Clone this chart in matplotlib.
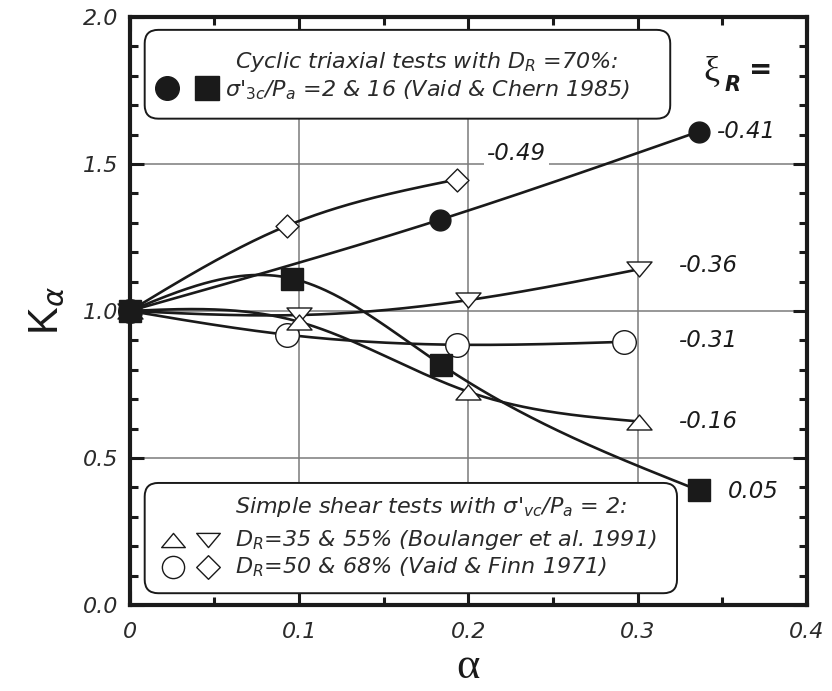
import numpy as np
import matplotlib
matplotlib.use('Agg')
import matplotlib.pyplot as plt
from matplotlib.patches import FancyBboxPatch
from matplotlib.path import Path

plt.rcParams['font.family'] = ['DejaVu Sans']
plt.rcParams['mathtext.fontset'] = 'dejavusans'

# ---------------- data ----------------
alpha_diamond = [0.0, 0.093, 0.193]
k_diamond = [1.0, 1.29, 1.447]
alpha_fcircle = [0.0, 0.183, 0.336]
k_fcircle = [1.0, 1.31, 1.61]
alpha_fsquare = [0.0, 0.096, 0.184, 0.336]
k_fsquare = [1.0, 1.11, 0.817, 0.39]
alpha_dtri = [0.0, 0.1, 0.2, 0.301]
k_dtri = [1.0, 0.986, 1.037, 1.142]
alpha_ocircle = [0.0, 0.093, 0.193, 0.292]
k_ocircle = [1.0, 0.919, 0.885, 0.895]
alpha_utri = [0.0, 0.1, 0.2, 0.301]
k_utri = [1.0, 0.963, 0.725, 0.624]

xi_labels = ['-0.49', '-0.41', '-0.36', '-0.31', '-0.16', '0.05']
xi_label_x = [0.211, 0.347, 0.3245, 0.3245, 0.3245, 0.353]
xi_label_y = [1.535, 1.61, 1.156, 0.898, 0.624, 0.386]

xticks = [0, 0.1, 0.2, 0.3, 0.4]
xtick_labels = ['0', '0.1', '0.2', '0.3', '0.4']
yticks = [0.0, 0.5, 1.0, 1.5, 2.0]
ytick_labels = ['0.0', '0.5', '1.0', '1.5', '2.0']


def natural_spline(x, y, n=300):
    x = np.asarray(x, float)
    y = np.asarray(y, float)
    m = len(x)
    h = np.diff(x)
    A = np.zeros((m, m))
    b = np.zeros(m)
    A[0, 0] = 1
    A[-1, -1] = 1
    for i in range(1, m - 1):
        A[i, i - 1] = h[i - 1]
        A[i, i] = 2 * (h[i - 1] + h[i])
        A[i, i + 1] = h[i]
        b[i] = 3 * ((y[i + 1] - y[i]) / h[i] - (y[i] - y[i - 1]) / h[i - 1])
    c = np.linalg.solve(A, b)
    xs = np.linspace(x[0], x[-1], n)
    idx = np.clip(np.searchsorted(x, xs) - 1, 0, m - 2)
    dx = xs - x[idx]
    bc = (y[1:] - y[:-1]) / h - h * (2 * c[:-1] + c[1:]) / 3
    d = (c[1:] - c[:-1]) / (3 * h)
    ys = y[idx] + bc[idx] * dx + c[idx] * dx ** 2 + d[idx] * dx ** 3
    return xs, ys


tri_up = Path([(-1, -0.6), (1, -0.6), (0, 0.6), (-1, -0.6)], closed=True)
tri_down = Path([(-1, 0.6), (1, 0.6), (0, -0.6), (-1, 0.6)], closed=True)
diamond = Path([(0, 1), (1, 0), (0, -1), (-1, 0), (0, 1)], closed=True)

fig = plt.figure(figsize=(8.32, 6.91), dpi=100)
ax = fig.add_axes([0.156, 0.1245, 0.814, 0.851])

ax.set_xlim(0, 0.4)
ax.set_ylim(0, 2.0)

ax.set_axisbelow(True)
ax.grid(True, which='major', color='#7a7a7a', lw=1.1)

ink = '#1a1a1a'
series = [
    (alpha_diamond, k_diamond, diamond, 16.5, 'white'),
    (alpha_fcircle, k_fcircle, 'o', 15, ink),
    (alpha_dtri, k_dtri, tri_down, 18, 'white'),
    (alpha_ocircle, k_ocircle, 'o', 17, 'white'),
    (alpha_utri, k_utri, tri_up, 18, 'white'),
    (alpha_fsquare, k_fsquare, 's', 16, ink),
]
for i, (xa, ya, mk, ms, fc) in enumerate(series):
    xs, ys = natural_spline(xa, ya)
    ax.plot(xs, ys, color=ink, lw=1.9, zorder=3, solid_capstyle='round')
    ax.plot(xa, ya, ls='none', marker=mk, ms=ms, mfc=fc, mec=ink, mew=1.0,
            zorder=4 + i * 0.1, clip_on=False)

# ξ labels
for lab, lx, ly in zip(xi_labels, xi_label_x, xi_label_y):
    kw = {}
    if lab == '-0.49':
        kw['bbox'] = dict(boxstyle='square,pad=0.15', fc='white', ec='none')
    ax.text(lx, ly, lab, fontsize=16.5, style='italic', color=ink,
            ha='left', va='center', zorder=3.5, **kw)

ax.text(0.339, 1.81, 'ξ', family='Liberation Serif', fontsize=26, color=ink,
        ha='left', va='center')
ax.text(0.3515, 1.77, 'R', fontsize=15, weight='bold', style='italic', color=ink,
        ha='left', va='center')
ax.text(0.366, 1.82, '=', fontsize=20, weight='bold', color=ink,
        ha='left', va='center')

# legend boxes
asp = (0.814 * 832) / (0.851 * 691)
box_kw = dict(boxstyle='round,pad=0,rounding_size=0.02', transform=ax.transAxes,
              mutation_aspect=asp, fc='white', ec=ink, lw=1.4, zorder=6, clip_on=False)
ax.add_patch(FancyBboxPatch((0.022, 0.827), 0.776, 0.151, **box_kw))
ax.add_patch(FancyBboxPatch((0.022, 0.020), 0.786, 0.1875, **box_kw))

tkw = dict(transform=ax.transAxes, fontsize=16, style='italic', color='#2a2a2a',
           ha='left', va='center', zorder=7)
ax.text(0.155, 0.923, 'Cyclic triaxial tests with $D_R$ =70%:', **tkw)
ax.text(0.140, 0.876, "σ'$_{3c}$/$P_a$ =2 & 16 (Vaid & Chern 1985)", **tkw)
ax.text(0.155, 0.1667, "Simple shear tests with σ'$_{vc}$/$P_a$ = 2:", **tkw)
ax.text(0.155, 0.1105, '$D_R$=35 & 55% (Boulanger et al. 1991)', **tkw)
ax.text(0.155, 0.0646, '$D_R$=50 & 68% (Vaid & Finn 1971)', **tkw)

mkw = dict(transform=ax.transAxes, ls='none', mec=ink, mew=1.0, zorder=8, clip_on=False)
ax.plot([0.0547], [0.879], marker='o', ms=17, mfc=ink, **mkw)
ax.plot([0.114], [0.879], marker='s', ms=17, mfc=ink, **mkw)
ax.plot([0.0635], [0.1105], marker=tri_up, ms=17, mfc='white', **mkw)
ax.plot([0.115], [0.1105], marker=tri_down, ms=17, mfc='white', **mkw)
ax.plot([0.0635], [0.0646], marker='o', ms=16, mfc='white', **mkw)
ax.plot([0.115], [0.0646], marker=diamond, ms=17, mfc='white', **mkw)

# axes styling
ax.set_xticks(xticks)
ax.set_xticklabels(xtick_labels, fontsize=16, style='italic', color='#2a2a2a')
ax.set_yticks(yticks)
ax.set_yticklabels(ytick_labels, fontsize=16, style='italic', color='#2a2a2a')
ax.set_xticks(np.arange(0.05, 0.4, 0.1), minor=True)
ax.set_yticks(np.arange(0.1, 2.0, 0.1), minor=True)
ax.tick_params(which='both', direction='in', top=True, right=True, width=2.2, color=ink)
ax.tick_params(which='major', length=10)
ax.tick_params(which='minor', length=6)
ax.tick_params(axis='x', which='major', pad=12)
ax.tick_params(axis='y', which='major', pad=8)
for sp in ax.spines.values():
    sp.set_linewidth(3)
    sp.set_color(ink)
    sp.set_zorder(9)

ax.set_ylabel('K$_{\\alpha}$', family='Liberation Sans', fontsize=30, color=ink, labelpad=12)
ax.set_xlabel('α', family='Liberation Serif', fontsize=32, color=ink, labelpad=4)

fig.savefig('out.png', dpi=100)
